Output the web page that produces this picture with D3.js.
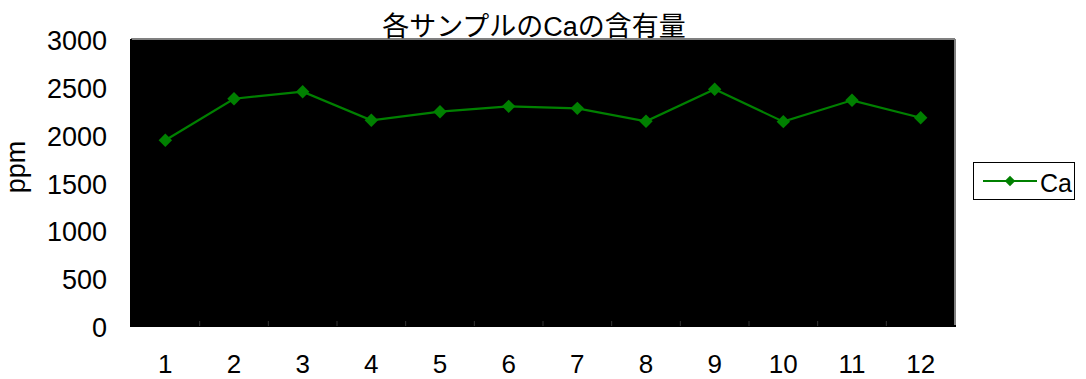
<!DOCTYPE html>
<html>
<head>
<meta charset="utf-8">
<script src="https://cdn.jsdelivr.net/npm/d3@7"></script>
<style>
  body { margin: 0; background: #fff; }
  text { font-family: "Liberation Sans", Arial, sans-serif; fill: #000; }
  .title { font-family: "Liberation Sans", "Noto Sans CJK JP", sans-serif; font-size: 27px; }
  .tick-label { font-size: 27px; }
</style>
</head>
<body>
<svg id="chart" width="1086" height="379"></svg>
<script>
const title = "各サンプルのCaの含有量"
const samples = ["1","2","3","4","5","6","7","8","9","10","11","12"]
const caValues = [1941, 2376, 2449, 2150, 2240, 2296, 2275, 2140, 2474, 2136, 2359, 2177]
const yTicks = [0, 500, 1000, 1500, 2000, 2500, 3000]
const seriesName = "Ca"
const yLabel = "ppm"

const svg = d3.select("#chart")
const plotL = 131, plotR = 955, plotT = 39, plotB = 326
const green = "#008000"

let xScale = d3.scaleBand().domain(samples).range([plotL, plotR])
let yScale = d3.scaleLinear().domain([0, 3000]).range([plotB, plotT])

// plot background
svg.append("rect")
    .attr("x", plotL).attr("y", plotT)
    .attr("width", plotR - plotL).attr("height", plotB - plotT)
    .attr("fill", "#000")

// frame: grey on top/right, black left/bottom
svg.append("line").attr("x1", plotL).attr("x2", plotR).attr("y1", plotT).attr("y2", plotT)
    .attr("stroke", "#808080").attr("stroke-width", 2)
svg.append("line").attr("x1", plotR).attr("x2", plotR).attr("y1", plotT).attr("y2", plotB)
    .attr("stroke", "#808080").attr("stroke-width", 2)
svg.append("line").attr("x1", plotL).attr("x2", plotL).attr("y1", plotT).attr("y2", plotB + 1)
    .attr("stroke", "#000").attr("stroke-width", 2)
svg.append("line").attr("x1", plotL).attr("x2", plotR + 1).attr("y1", plotB).attr("y2", plotB)
    .attr("stroke", "#000").attr("stroke-width", 2)

// category dividers at bottom
svg.selectAll(".xdiv")
    .data(samples.slice(1))
    .enter()
    .append("line")
    .attr("x1", d => xScale(d)).attr("x2", d => xScale(d))
    .attr("y1", plotB - 5).attr("y2", plotB)
    .attr("stroke", "#333").attr("stroke-width", 1)

// x tick labels
svg.selectAll(".xlab")
    .data(samples)
    .enter()
    .append("text")
    .attr("class", "tick-label")
    .style("font-size", "26px")
    .attr("x", d => xScale(d) + xScale.bandwidth() / 2)
    .attr("y", 373)
    .attr("text-anchor", "middle")
    .text(d => d)

// y tick labels
svg.selectAll(".ylab")
    .data(yTicks)
    .enter()
    .append("text")
    .attr("class", "tick-label")
    .attr("x", 107)
    .attr("y", d => yScale(d) + 11)
    .attr("text-anchor", "end")
    .text(d => d)

// y label
svg.append("text")
    .attr("transform", "translate(25,167) rotate(-90)")
    .attr("text-anchor", "middle")
    .style("font-size", "27px")
    .text(yLabel)

// title
svg.append("text")
    .attr("class", "title")
    .attr("x", 534).attr("y", 36)
    .attr("text-anchor", "middle")
    .text(title)

// series line
let line = d3.line()
    .x((d, i) => xScale(samples[i]) + xScale.bandwidth() / 2)
    .y(d => yScale(d))

svg.append("path")
    .datum(caValues)
    .attr("d", line)
    .attr("fill", "none")
    .attr("stroke", green)
    .attr("stroke-width", 2.2)

let diamond = d3.symbol().type(d3.symbolSquare).size(90)
svg.selectAll(".marker")
    .data(caValues)
    .enter()
    .append("path")
    .attr("d", diamond)
    .attr("transform", (d, i) => `translate(${xScale(samples[i]) + xScale.bandwidth() / 2},${yScale(d)}) rotate(45)`)
    .attr("fill", green)

// legend
let lg = svg.append("g").attr("transform", "translate(973,162)")
lg.append("rect").attr("x", 0.5).attr("y", 0.5).attr("width", 101).attr("height", 37)
    .attr("fill", "#fff").attr("stroke", "#000").attr("stroke-width", 1)
lg.append("line").attr("x1", 10).attr("x2", 64).attr("y1", 19).attr("y2", 19)
    .attr("stroke", green).attr("stroke-width", 2)
lg.append("path").attr("d", d3.symbol().type(d3.symbolSquare).size(55))
    .attr("transform", "translate(37,19) rotate(45)").attr("fill", green)
lg.append("text").attr("x", 67).attr("y", 30).style("font-size", "25px").text(seriesName)
</script>
</body>
</html>
